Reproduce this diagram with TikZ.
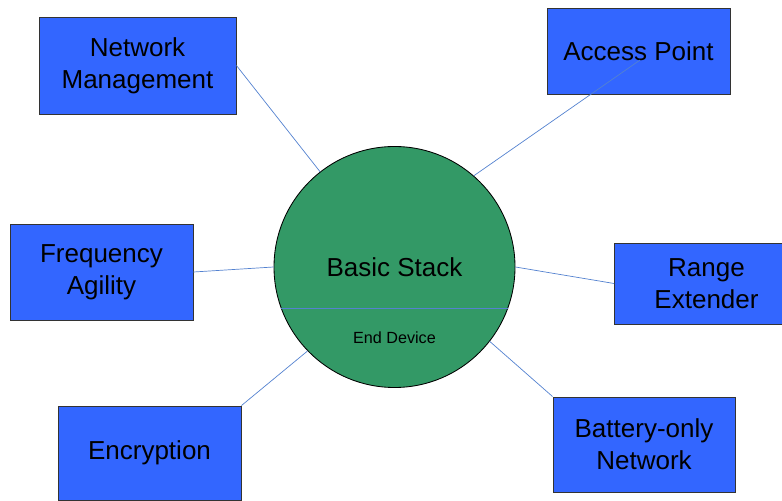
\documentclass[tikz,border=0pt]{standalone}
\usepackage{fontspec}
\setmainfont{Liberation Sans}
\usepackage{xcolor}
\usepackage{tikz}
\definecolor{featureblue}{RGB}{51,102,255}
\definecolor{stackgreen}{RGB}{51,153,102}
\definecolor{linkblue}{RGB}{84,130,208}

\begin{document}
\begin{tikzpicture}[
  box/.style={draw=black!80,line width=0.6pt,fill=featureblue,align=center,inner sep=0pt,
    font=\fontsize{18.5}{22.8}\selectfont},
  link/.style={draw=linkblue,line width=0.5pt}]
\useasboundingbox (0,0) rectangle (19.55,12.5);
% the stack in the middle
\node[circle,draw=black,line width=0.6pt,fill=stackgreen,minimum size=6.025cm,inner sep=0pt,
  font=\fontsize{18.5}{22}\selectfont] (stack) at (9.8625,5.825) {Basic Stack};
\draw[link] (stack.200) -- (stack.340);
\node[font=\fontsize{11.5}{14}\selectfont] (enddev) at (9.8625,4.05) {End Device};
% feature boxes
\node[box,minimum width=4.925cm,minimum height=2.425cm] (netmgmt) at (3.4375,10.8625) {Network\\Management};
\node[box,minimum width=4.575cm,minimum height=2.15cm] (accesspt) at (15.9625,11.225) {Access Point};
\node[box,minimum width=4.575cm,minimum height=2.4cm] (freqag) at (2.5375,5.7) {Frequency\\Agility};
\node[box,minimum width=4.6cm,minimum height=2.025cm] (rangeext) at (17.6625,5.4125) {Range\\Extender};
\node[box,minimum width=4.575cm,minimum height=2.35cm] (encrypt) at (3.7375,1.175) {Encryption};
\node[box,minimum width=4.55cm,minimum height=2.375cm] (battery) at (16.1,1.3875) {Battery-only\\Network};
% connectors
\draw[link] (netmgmt.east) -- (stack.128);
\draw[link] (stack.49.5) -- ([xshift=0.04cm,yshift=-0.225cm]accesspt.center);
\draw[link] (freqag.east) -- (stack.west);
\draw[link] (stack.east) -- (rangeext.west);
\draw[link] (encrypt.north east) -- (stack.224);
\draw[link] (battery.north west) -- (stack.-38);
\end{tikzpicture}
\end{document}
